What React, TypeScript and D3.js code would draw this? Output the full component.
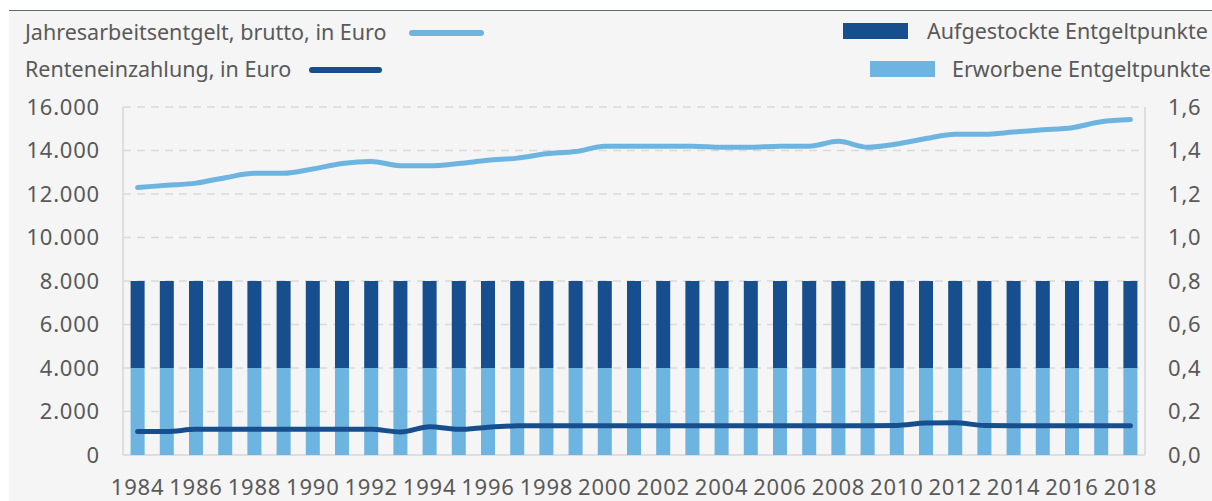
import { useEffect, useRef } from "react";
import * as d3 from "d3";

const years = [
  "1984", "1985", "1986", "1987", "1988", "1989", "1990", "1991", "1992", "1993",
  "1994", "1995", "1996", "1997", "1998", "1999", "2000", "2001", "2002", "2003",
  "2004", "2005", "2006", "2007", "2008", "2009", "2010", "2011", "2012", "2013",
  "2014", "2015", "2016", "2017", "2018",
];

// Entgeltpunkte (right axis)
const erworben = [
  0.4, 0.4, 0.4, 0.4, 0.4, 0.4, 0.4, 0.4, 0.4, 0.4,
  0.4, 0.4, 0.4, 0.4, 0.4, 0.4, 0.4, 0.4, 0.4, 0.4,
  0.4, 0.4, 0.4, 0.4, 0.4, 0.4, 0.4, 0.4, 0.4, 0.4,
  0.4, 0.4, 0.4, 0.4, 0.4,
];
const aufgestockt = [
  0.4, 0.4, 0.4, 0.4, 0.4, 0.4, 0.4, 0.4, 0.4, 0.4,
  0.4, 0.4, 0.4, 0.4, 0.4, 0.4, 0.4, 0.4, 0.4, 0.4,
  0.4, 0.4, 0.4, 0.4, 0.4, 0.4, 0.4, 0.4, 0.4, 0.4,
  0.4, 0.4, 0.4, 0.4, 0.4,
];

// Euro (left axis)
const jahresentgelt = [
  12300, 12400, 12500, 12750, 12950, 12950, 13150, 13400, 13500, 13300,
  13300, 13400, 13550, 13650, 13850, 13950, 14200, 14200, 14200, 14200,
  14150, 14150, 14200, 14200, 14420, 14150, 14300, 14550, 14750, 14750,
  14850, 14950, 15050, 15320, 15420,
];
const renteneinzahlung = [
  1080, 1080, 1180, 1180, 1180, 1180, 1180, 1180, 1180, 1060,
  1300, 1180, 1280, 1340, 1350, 1350, 1350, 1350, 1350, 1350,
  1350, 1350, 1350, 1350, 1350, 1350, 1360, 1470, 1480, 1360,
  1350, 1350, 1350, 1350, 1350,
];

const leftTicks = [0, 2000, 4000, 6000, 8000, 10000, 12000, 14000, 16000];
const rightTicks = [0, 0.2, 0.4, 0.6, 0.8, 1.0, 1.2, 1.4, 1.6];

const W = 1212;
const H = 501;
const textColor = "#595959";
const darkBlue = "#174f8e";
const lightBlue = "#6eb4e1";
const font = "Noto Sans";

const App = () => {
  const svgRef = useRef<SVGSVGElement>(null);

  useEffect(() => {
    if (!svgRef.current) return;
    const svg = d3.select(svgRef.current);
    svg.selectAll("*").remove();

    const margin = { top: 107, right: 67, bottom: 46, left: 123 };
    const x0 = margin.left;
    const x1 = W - margin.right;
    const yTop = margin.top;
    const yBot = H - margin.bottom;

    const x = d3.scaleBand().domain(years).range([x0, x1]).paddingInner(0.52).paddingOuter(0.26);
    const yL = d3.scaleLinear().domain([0, 16000]).range([yBot, yTop]);
    const yR = d3.scaleLinear().domain([0, 1.6]).range([yBot, yTop]);

    // background
    svg.append("rect").attr("width", W).attr("height", H).attr("fill", "#ffffff");
    svg.append("rect").attr("x", 9).attr("y", 10).attr("width", W - 9).attr("height", H - 10).attr("fill", "#f5f5f5");
    svg.append("line").attr("x1", 9).attr("x2", W).attr("y1", 10.5).attr("y2", 10.5)
      .attr("stroke", "#5f6873").attr("stroke-width", 1.2);

    // grid
    svg.selectAll("line.grid")
      .data(leftTicks.filter((d) => d > 0))
      .join("line")
      .attr("class", "grid")
      .attr("x1", x0).attr("x2", x1)
      .attr("y1", (d) => yL(d)).attr("y2", (d) => yL(d))
      .attr("stroke", "#d9d9d9").attr("stroke-width", 1.5)
      .attr("stroke-dasharray", "8,6");

    // axis frame
    svg.append("line").attr("x1", x0).attr("x2", x0).attr("y1", yTop).attr("y2", yBot)
      .attr("stroke", "#d6d6d6").attr("stroke-width", 1.5);
    svg.append("line").attr("x1", x1).attr("x2", x1).attr("y1", yTop).attr("y2", yBot)
      .attr("stroke", "#d6d6d6").attr("stroke-width", 1.5);
    svg.append("line").attr("x1", x0).attr("x2", x1).attr("y1", yBot).attr("y2", yBot)
      .attr("stroke", "#d6d6d6").attr("stroke-width", 1.5);

    // stacked bars
    const table = years.map((yr, i) => ({ year: yr, erworben: erworben[i], aufgestockt: aufgestockt[i] }));
    const stack = d3.stack<any>().keys(["erworben", "aufgestockt"])(table);
    const colors: Record<string, string> = { erworben: lightBlue, aufgestockt: darkBlue };

    svg.selectAll("g.series")
      .data(stack)
      .join("g")
      .attr("class", "series")
      .attr("fill", (s) => colors[s.key])
      .selectAll("rect")
      .data((s) => s)
      .join("rect")
      .attr("x", (d: any) => x(d.data.year)!)
      .attr("width", x.bandwidth())
      .attr("y", (d) => yR(d[1]))
      .attr("height", (d) => yR(d[0]) - yR(d[1]));

    // lines
    const cx = (i: number) => x(years[i])! + x.bandwidth() / 2;
    const line = d3.line<number>()
      .x((_, i) => cx(i))
      .y((d) => yL(d))
      .curve(d3.curveMonotoneX);

    svg.append("path").datum(jahresentgelt).attr("d", line)
      .attr("fill", "none").attr("stroke", lightBlue).attr("stroke-width", 5)
      .attr("stroke-linecap", "round").attr("stroke-linejoin", "round");
    svg.append("path").datum(renteneinzahlung).attr("d", line)
      .attr("fill", "none").attr("stroke", darkBlue).attr("stroke-width", 5)
      .attr("stroke-linecap", "round").attr("stroke-linejoin", "round");

    const numText = (sel: any) =>
      sel.attr("font-family", font).attr("font-size", 22)
        .attr("letter-spacing", 0.8).attr("fill", textColor);

    // left axis labels
    const fmtL = (d: number) => d3.format(",")(d).replace(/,/g, ".");
    svg.selectAll("text.yl")
      .data(leftTicks)
      .join("text")
      .attr("class", "yl")
      .attr("x", 100)
      .attr("y", (d) => yL(d))
      .attr("dy", "0.36em")
      .attr("text-anchor", "end")
      .call(numText)
      .text(fmtL);

    // right axis labels
    svg.selectAll("text.yr")
      .data(rightTicks)
      .join("text")
      .attr("class", "yr")
      .attr("x", 1168)
      .attr("y", (d) => yR(d))
      .attr("dy", "0.36em")
      .call(numText)
      .text((d) => d3.format(".1f")(d).replace(".", ","));

    // x labels
    svg.selectAll("text.xl")
      .data(years.filter((_, i) => i % 2 === 0))
      .join("text")
      .attr("class", "xl")
      .attr("x", (d) => x(d)! + x.bandwidth() / 2)
      .attr("y", 495)
      .attr("text-anchor", "middle")
      .call(numText)
      .text((d) => d);

    // legend left
    const legL = svg.append("g").attr("font-family", font).attr("font-size", 21.5).attr("fill", textColor);
    legL.append("text").attr("x", 25).attr("y", 40).text("Jahresarbeitsentgelt, brutto, in Euro");
    legL.append("line").attr("x1", 412).attr("x2", 481).attr("y1", 33).attr("y2", 33)
      .attr("stroke", lightBlue).attr("stroke-width", 6).attr("stroke-linecap", "round");
    legL.append("text").attr("x", 25).attr("y", 77).text("Renteneinzahlung, in Euro");
    legL.append("line").attr("x1", 312).attr("x2", 379).attr("y1", 70).attr("y2", 70)
      .attr("stroke", darkBlue).attr("stroke-width", 6).attr("stroke-linecap", "round");

    // legend right
    const legR = svg.append("g").attr("font-family", font).attr("font-size", 21.5).attr("fill", textColor);
    legR.append("rect").attr("x", 843).attr("y", 23).attr("width", 65).attr("height", 16).attr("fill", darkBlue);
    legR.append("text").attr("x", 927).attr("y", 39).text("Aufgestockte Entgeltpunkte");
    legR.append("rect").attr("x", 870).attr("y", 61).attr("width", 65).attr("height", 16).attr("fill", lightBlue);
    legR.append("text").attr("x", 952).attr("y", 77).text("Erworbene Entgeltpunkte");
  }, []);

  return (
    <svg
      ref={svgRef}
      width={W}
      height={H}
      style={{ position: "absolute", left: 0, top: 0, display: "block" }}
    />
  );
};

export default App;
